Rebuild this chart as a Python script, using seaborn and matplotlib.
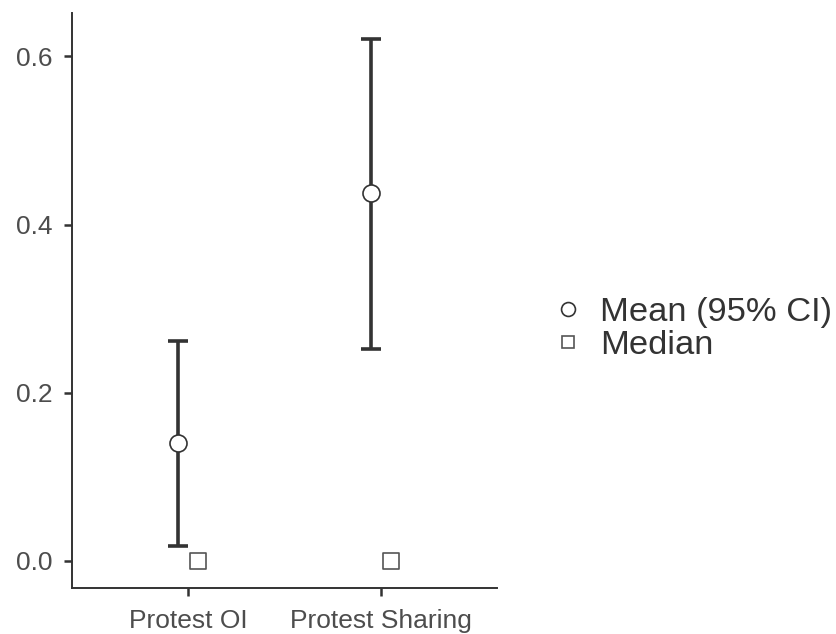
import numpy as np
import pandas as pd
import matplotlib
matplotlib.use("Agg")
import matplotlib.pyplot as plt
import seaborn as sns
from matplotlib.lines import Line2D

# Values
categories = ["Protest OI", "Protest Sharing"]
mean_vals = [0.140, 0.437]
ci_low = [0.018, 0.252]
ci_high = [0.262, 0.621]
median_vals = [0.0, 0.0]

sns.set_theme(style="ticks")
plt.rcParams["font.family"] = ["Liberation Sans", "DejaVu Sans"]

pos = np.arange(len(categories)) + 1
dodge = 0.052

means = pd.DataFrame({"x": pos - dodge, "y": mean_vals})
medians = pd.DataFrame({"x": pos + dodge, "y": median_vals})

fig = plt.figure(figsize=(8.37, 6.34), dpi=100)
ax = fig.add_axes([0.086, 0.073, 0.508, 0.907])

# Confidence intervals
lo = np.array(mean_vals) - np.array(ci_low)
hi = np.array(ci_high) - np.array(mean_vals)
ax.errorbar(means["x"], means["y"], yerr=[lo, hi], fmt="none",
            ecolor="#333333", elinewidth=2.6, capsize=7.2, capthick=2.6, zorder=2)

sns.scatterplot(data=means, x="x", y="y", ax=ax, marker="o", s=150,
                facecolor="white", edgecolor="#333333", linewidth=1.2, zorder=3)
sns.scatterplot(data=medians, x="x", y="y", ax=ax, marker="s", s=120,
                facecolor="white", edgecolor="#555555", linewidth=1.2, zorder=3)

ax.set_xlim(0.4, 2.6)
ax.set_ylim(-0.032, 0.652)
ax.set_xticks(pos)
ax.set_xticklabels(categories)
ax.set_yticks([0.0, 0.2, 0.4, 0.6])
ax.set_yticklabels(["0.0", "0.2", "0.4", "0.6"])
ax.set_xlabel("")
ax.set_ylabel("")

sns.despine(ax=ax)
for side in ["left", "bottom"]:
    ax.spines[side].set_color("#333333")
    ax.spines[side].set_linewidth(1.4)
ax.tick_params(axis="both", colors="#333333", width=1.8, length=6,
               labelsize=19, labelcolor="#4d4d4d")
ax.tick_params(axis="x", pad=9.5)
ax.tick_params(axis="y", pad=8)

handles = [
    Line2D([], [], marker="o", linestyle="none", markersize=10,
           markerfacecolor="white", markeredgecolor="#333333", markeredgewidth=1.2),
    Line2D([], [], marker="s", linestyle="none", markersize=9,
           markerfacecolor="white", markeredgecolor="#555555", markeredgewidth=1.2),
]
leg = fig.legend(handles, ["Mean (95% CI)", "Median"], loc="center left",
                 bbox_to_anchor=(0.641, 0.481), frameon=False, fontsize=24.8,
                 handletextpad=0.35, labelspacing=0.05, handlelength=1.2,
                 borderaxespad=0.0, borderpad=0.3)
for t in leg.get_texts():
    t.set_color("#333333")

fig.savefig("out.png", dpi=100)
